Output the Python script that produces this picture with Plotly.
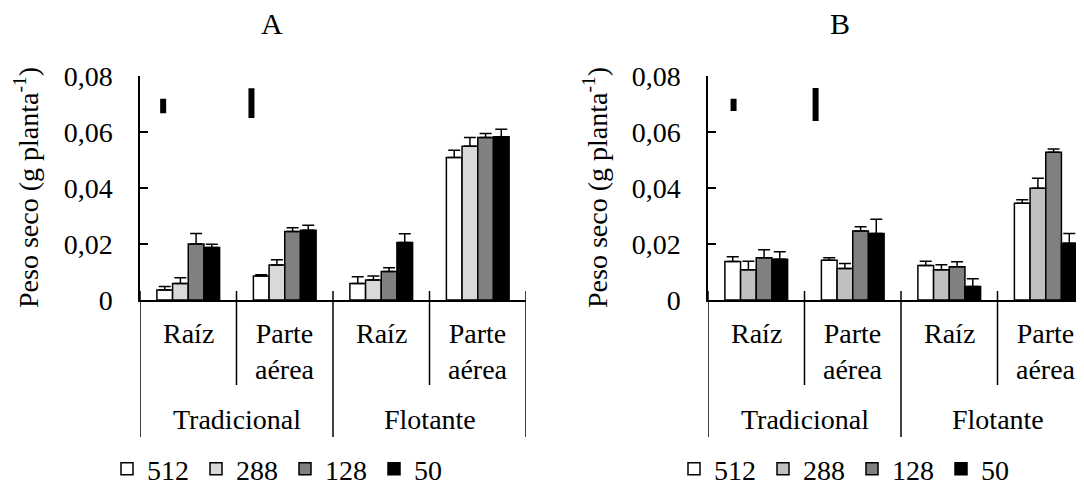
import plotly.graph_objects as go

# ---------------- data ----------------
inner_labels = ["Raíz", "Parte<br>aérea", "Raíz", "Parte<br>aérea"]
outer_labels = ["Tradicional", "Flotante"]
series_names = ["512", "288", "128", "50"]

a_512 = [0.0036, 0.0086, 0.0059, 0.0508]
a_288 = [0.0059, 0.0125, 0.0071, 0.0548]
a_128 = [0.0200, 0.0244, 0.0102, 0.0580]
a_50 = [0.0187, 0.0249, 0.0205, 0.0582]
a_err_512 = [0.0012, 0.0004, 0.0024, 0.0026]
a_err_288 = [0.0020, 0.0019, 0.0015, 0.0032]
a_err_128 = [0.0037, 0.0014, 0.0013, 0.0014]
a_err_50 = [0.0012, 0.0018, 0.0031, 0.0027]

b_512 = [0.0137, 0.0142, 0.0123, 0.0345]
b_288 = [0.0108, 0.0112, 0.0108, 0.0399]
b_128 = [0.0151, 0.0246, 0.0119, 0.0527]
b_50 = [0.0145, 0.0237, 0.0048, 0.0202]
b_err_512 = [0.0017, 0.0009, 0.0015, 0.0013]
b_err_288 = [0.0030, 0.0018, 0.0018, 0.0035]
b_err_128 = [0.0028, 0.0015, 0.0017, 0.0012]
b_err_50 = [0.0027, 0.0051, 0.0028, 0.0035]

# LSD bars (position along category axis, centre value, length)
a_lsd_x = [-0.26, 0.655]
a_lsd_c = [0.0692, 0.0702]
a_lsd_len = [0.0051, 0.0106]
b_lsd_x = [-0.235, 0.615]
b_lsd_c = [0.0696, 0.0697]
b_lsd_len = [0.0043, 0.0118]

y_tickvals = [0, 0.02, 0.04, 0.06, 0.08]
y_ticktext = ["0", "0,02", "0,04", "0,06", "0,08"]
y_title = "Peso seco (g planta<sup>-1</sup>)"
panel_titles = ["A", "B"]

# ---------------- style ----------------
W, H = 1084, 486
OFF = 8  # page body margin
FONT = "Liberation Serif"
FS = 28
colors_a = ["#ffffff", "#d9d9d9", "#808080", "#000000"]
colors_b = ["#ffffff", "#c0c0c0", "#808080", "#000000"]

def px_x(p):
    return (p - OFF) / W

def px_y(p):
    return 1 - (p - OFF) / H

pos = list(range(len(inner_labels)))

fig = go.Figure()

panels = [
    dict(xa="x", ya="y", legend="legend",
         vals=[a_512, a_288, a_128, a_50],
         errs=[a_err_512, a_err_288, a_err_128, a_err_50],
         colors=colors_a, lsd=(a_lsd_x, a_lsd_c, a_lsd_len)),
    dict(xa="x2", ya="y2", legend="legend2",
         vals=[b_512, b_288, b_128, b_50],
         errs=[b_err_512, b_err_288, b_err_128, b_err_50],
         colors=colors_b, lsd=(b_lsd_x, b_lsd_c, b_lsd_len)),
]

for p in panels:
    for name, v, e, c in zip(series_names, p["vals"], p["errs"], p["colors"]):
        fig.add_trace(go.Bar(
            x=pos, y=v, name=name, xaxis=p["xa"], yaxis=p["ya"],
            legend=p["legend"], offsetgroup=name,
            marker=dict(color=c, line=dict(color="black", width=1.5)),
            error_y=dict(type="data", array=e, arrayminus=[0] * len(e),
                         symmetric=False, color="black", thickness=1.5, width=6),
        ))
    lx, lc, ll = p["lsd"]
    for xx, cc, ln in zip(lx, lc, ll):
        fig.add_trace(go.Scatter(
            x=[xx, xx], y=[cc - ln / 2, cc + ln / 2], mode="lines",
            line=dict(color="black", width=6), xaxis=p["xa"], yaxis=p["ya"],
            showlegend=False, hoverinfo="skip",
        ))

# axes
ydom = [px_y(300), px_y(75.7)]
common_x = dict(showline=True, linecolor="black", linewidth=1.5, showticklabels=False,
                ticks="", showgrid=False, zeroline=False, fixedrange=True,
                automargin=False)
common_y = dict(range=[0, 0.08], tickvals=y_tickvals, ticktext=y_ticktext,
                showline=True, linecolor="black", linewidth=1.5, ticks="inside",
                ticklen=8, tickwidth=1.5, tickcolor="black", showgrid=False,
                zeroline=False, ticklabelstandoff=20, automargin=False,
                tickfont=dict(family=FONT, size=FS, color="black"))

a_left, a_right = 140, 526
b_left = 708
unit = (a_right - a_left) / 4.0
b_right_px = OFF + W
b_span = (b_right_px - b_left) / unit

fig.update_layout(
    xaxis=dict(domain=[px_x(a_left), px_x(a_right)], range=[-0.5, 3.5], anchor="y", **common_x),
    yaxis=dict(domain=ydom, anchor="x", **common_y),
    xaxis2=dict(domain=[px_x(b_left), 1.0], range=[-0.5, -0.5 + b_span], anchor="y2", **common_x),
    yaxis2=dict(domain=ydom, anchor="x2", **common_y),
)

# category labels and dividers
shapes = []
annotations = []
for xa in ["x", "x2"]:
    for i, lab in enumerate(inner_labels):
        annotations.append(dict(x=pos[i], y=px_y(316), xref=xa, yref="paper",
                                text=lab, showarrow=False, xanchor="center", yanchor="top",
                                font=dict(family=FONT, size=FS, color="black")))
    for j, lab in enumerate(outer_labels):
        center = (pos[2 * j] + pos[2 * j + 1]) / 2
        annotations.append(dict(x=center, y=px_y(402), xref=xa, yref="paper",
                                text=lab, showarrow=False, xanchor="center", yanchor="top",
                                font=dict(family=FONT, size=FS, color="black")))
        # inner divider between the two sub-categories
        shapes.append(dict(type="line", xref=xa, yref="paper",
                           x0=center, x1=center, y0=px_y(291), y1=px_y(385),
                           line=dict(color="black", width=1.5)))
    # outer dividers
    for k in range(len(outer_labels) + 1):
        xb = -0.5 + 2 * k
        shapes.append(dict(type="line", xref=xa, yref="paper",
                           x0=xb, x1=xb, y0=px_y(291), y1=px_y(437),
                           line=dict(color="black", width=1.5)))

# y-axis titles
for xpx in [26, 595]:
    annotations.append(dict(x=px_x(xpx), y=px_y(188), xref="paper", yref="paper",
                            text=y_title, textangle=-90, showarrow=False,
                            xanchor="center", yanchor="middle",
                            font=dict(family=FONT, size=FS, color="black")))

# panel titles
for t, xpx in zip(panel_titles, [272, 840]):
    annotations.append(dict(x=px_x(xpx), y=px_y(24), xref="paper", yref="paper", text=t,
                            showarrow=False, xanchor="center", yanchor="middle",
                            font=dict(family=FONT, size=30, color="black")))

leg_common = dict(orientation="h", entrywidth=44, entrywidthmode="pixels",
                  yanchor="bottom", y=0, xanchor="left", borderwidth=0,
                  bgcolor="rgba(0,0,0,0)", font=dict(family=FONT, size=FS, color="black"),
                  traceorder="normal", itemclick=False, itemdoubleclick=False)

fig.update_layout(
    width=W, height=H,
    margin=dict(l=0, r=0, t=0, b=0, autoexpand=False),
    paper_bgcolor="white", plot_bgcolor="white",
    barmode="group", bargap=0.35, bargroupgap=0,
    showlegend=True,
    legend=dict(x=px_x(107), **leg_common),
    legend2=dict(x=px_x(674), **leg_common),
    shapes=shapes, annotations=annotations,
    font=dict(family=FONT, size=FS, color="black"),
)

fig.write_html("out.html")
